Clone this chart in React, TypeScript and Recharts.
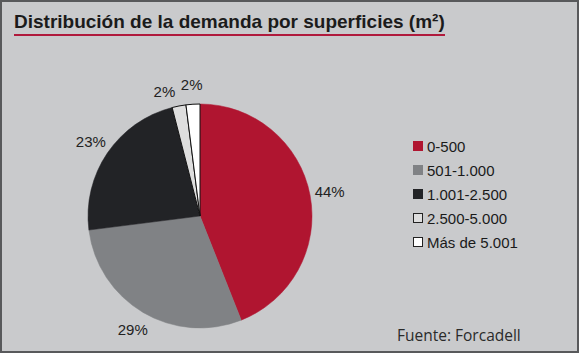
import { PieChart, Pie, Cell, Legend } from "recharts";

const categories = ["0-500", "501-1.000", "1.001-2.500", "2.500-5.000", "Más de 5.001"];
const shares = [44, 29, 23, 2, 2];
const colors = ["#b01530", "#808285", "#222326", "#dedede", "#ffffff"];

const data = categories.map((name, i) => ({ name, value: shares[i] }));

const RAD = Math.PI / 180;
const FONT = "'Liberation Sans', Arial, sans-serif";

function renderLabel(props: any) {
  const { cx, cy, midAngle, outerRadius, value, percent, index } = props;
  const r = outerRadius + 20;
  const x = cx + r * Math.cos(-midAngle * RAD);
  const y = cy + r * Math.sin(-midAngle * RAD);
  // the two thin slices at the top sit side by side: push the first one left
  const small = percent < 0.05;
  const anchor = small && index % 2 === 1 ? "end" : "middle";
  return (
    <text
      x={x}
      y={small && index % 2 === 1 ? y + 5 : y}
      textAnchor={anchor}
      dominantBaseline="central"
      fill="#222"
      fontSize={15}
      fontFamily={FONT}
    >
      {value}%
    </text>
  );
}

function LegendContent() {
  return (
    <div style={{ fontFamily: FONT, fontSize: 15, color: "#1a1a1a" }}>
      {categories.map((c, i) => (
        <div key={c} style={{ display: "flex", alignItems: "center", height: 24 }}>
          <span
            style={{
              display: "inline-block",
              width: 10,
              height: 10,
              marginRight: 4,
              background: colors[i],
              border: i >= 3 ? "1px solid #222" : "1px solid " + colors[i],
              boxSizing: "border-box",
            }}
          />
          {c}
        </div>
      ))}
    </div>
  );
}

export default function App() {
  return (
    <div
      style={{
        position: "absolute",
        left: 0,
        top: 0,
        width: 579,
        height: 353,
        boxSizing: "border-box",
        border: "2px solid #58595b",
        background: "#c9cacc",
        overflow: "hidden",
      }}
    >
      <div
        style={{
          position: "absolute",
          left: 12,
          top: 9,
          fontFamily: FONT,
          fontWeight: "bold",
          fontSize: 19,
          color: "#1b1b1b",
          borderBottom: "2px solid #b01a3c",
          lineHeight: "22px",
          paddingBottom: 1,
        }}
      >
        Distribución de la demanda por superficies (m²)
      </div>
      <div style={{ position: "absolute", left: -2, top: -2 }}>
        <PieChart width={579} height={353} margin={{ top: 0, right: 0, bottom: 0, left: 0 }}>
          <Pie
            data={data}
            dataKey="value"
            nameKey="name"
            cx={200}
            cy={216}
            outerRadius={112}
            startAngle={90}
            endAngle={-270}
            label={renderLabel}
            labelLine={false}
            isAnimationActive={false}
          >
            {data.map((d, i) => (
              <Cell
                key={d.name}
                fill={colors[i]}
                stroke={i >= 3 ? "#111" : colors[i]}
                strokeWidth={i >= 3 ? 1 : 0.5}
              />
            ))}
          </Pie>
          <Legend
            layout="vertical"
            verticalAlign="top"
            align="right"
            wrapperStyle={{ left: 413, top: 134, right: "auto", width: 150 }}
            content={<LegendContent />}
          />
        </PieChart>
      </div>
      <div
        style={{
          position: "absolute",
          left: 395,
          top: 322,
          fontFamily: "'Open Sans', sans-serif",
          fontSize: 15.5,
          color: "#2a2a2a",
        }}
      >
        Fuente: Forcadell
      </div>
    </div>
  );
}
